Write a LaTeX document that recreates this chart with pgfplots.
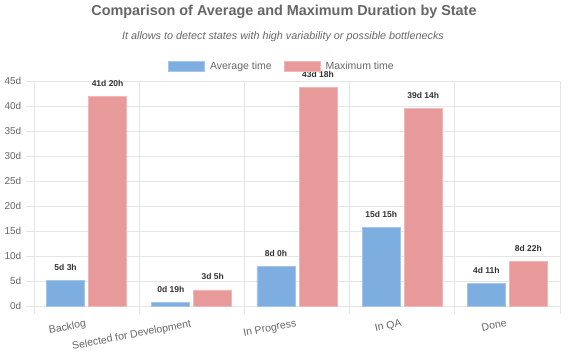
\documentclass[border=0pt]{standalone}
\usepackage{pgfplots}
\pgfplotsset{compat=1.18}
\usepackage{pgfplotstable}
\usepackage{fontspec}
\setmainfont{Liberation Sans}
\definecolor{avgblue}{RGB}{126,173,224}
\definecolor{maxred}{RGB}{232,154,154}
\definecolor{txtgray}{RGB}{102,102,102}
\definecolor{gridgray}{RGB}{229,229,229}
\definecolor{lblcol}{RGB}{51,51,51}

\pgfplotstableread[col sep=comma]{
x,avg,avglab,max,maxlab
0,5.125,5d 3h,41.833,41d 20h
1,0.792,0d 19h,3.208,3d 5h
2,8.0,8d 0h,43.75,43d 18h
3,15.625,15d 15h,39.583,39d 14h
4,4.458,4d 11h,8.917,8d 22h
}\data

\begin{document}
\begin{tikzpicture}
\path[use as bounding box] (0,0) rectangle (570pt,359pt);
\begin{axis}[
  at={(34pt,53pt)}, anchor=south west,
  scale only axis, width=526pt, height=225pt,
  xmin=-0.5, xmax=4.5, ymin=0, ymax=45,
  clip=false,
  ybar, bar width=38pt,
  axis line style={draw=gridgray, line width=0.8pt},
  ytick={0,5,...,45},
  yticklabels={0d,5d,10d,15d,20d,25d,30d,35d,40d,45d},
  ymajorgrids,
  grid style={gridgray, line width=0.8pt},
  xtick={0,1,2,3,4},
  xticklabels={Backlog,Selected for Development,In Progress,In QA,Done},
  minor xtick={-0.5,0.5,1.5,2.5,3.5,4.5},
  xminorgrids,
  minor grid style={gridgray, line width=0.8pt},
  tick align=outside, tick pos=left,
  major tick length=7.5pt, minor tick length=7.5pt,
  tick style={gridgray, line width=0.8pt},
  major x tick style={draw=none},
  yticklabel style={font=\fontsize{10}{12}\selectfont, text=txtgray, inner sep=0pt, xshift=-5pt},
  xticklabel style={font=\fontsize{10.5}{12}\selectfont, text=txtgray, rotate=11, anchor=north east, inner sep=0pt, yshift=-5pt, xshift=-2.5pt},
  nodes near coords,
  point meta=explicit symbolic,
  every node near coord/.style={font=\bfseries\fontsize{8.5}{10}\selectfont, text=lblcol, anchor=south, inner sep=0pt, yshift=9.5pt},
  legend style={at={(0.4715,1.064)}, anchor=center, draw=none, fill=none, legend columns=2,
    font=\fontsize{10.5}{12}\selectfont, text=txtgray,
    /tikz/every odd column/.append style={column sep=3pt},
    /tikz/every even column/.append style={column sep=10pt}},
  legend image code/.code={\draw[#1] (0pt,-5pt) rectangle (36pt,5pt);},
]
\addplot[fill=avgblue, draw=avgblue!70!white, line width=0.8pt, bar shift=-21pt,
  every node near coord/.append style={xshift=-21pt}]
  table[x=x, y=avg, meta=avglab] {\data};
\addlegendentry{Average time}
\addplot[fill=maxred, draw=maxred!70!white, line width=0.8pt, bar shift=21pt,
  every node near coord/.append style={xshift=21pt}]
  table[x=x, y=max, meta=maxlab] {\data};
\addlegendentry{Maximum time}
\end{axis}
\node[font=\bfseries\fontsize{14.4}{16}\selectfont, text=txtgray] at (284pt,347pt) {Comparison of Average and Maximum Duration by State};
\node[font=\itshape\fontsize{10.8}{12}\selectfont, text=txtgray] at (283pt,322pt) {It allows to detect states with high variability or possible bottlenecks};
\end{tikzpicture}
\end{document}
